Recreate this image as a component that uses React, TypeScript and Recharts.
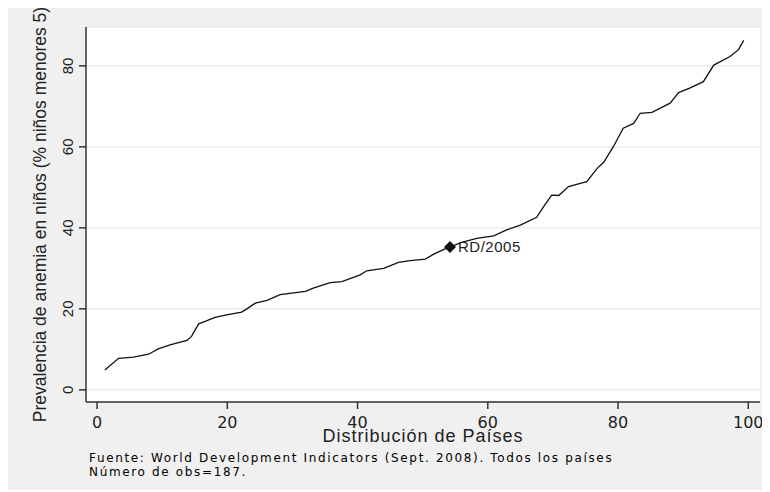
import { ComposedChart, Line, Scatter, XAxis, YAxis, CartesianGrid, Label } from "recharts";

// percentile of countries (x) vs anemia prevalence in children under 5 (y)
const pctl = [
  1.2, 3.3, 5.6, 7.9, 9.4, 11.2, 13.8, 14.5, 15.6, 16.6,
  18.1, 19.9, 22.2, 23.0, 24.3, 26.1, 28.1, 32.0, 33.2, 35.8,
  37.6, 40.4, 41.4, 44.0, 46.3, 48.1, 50.4, 51.7, 53.7, 56.0,
  58.3, 60.9, 62.9, 65.0, 67.5, 68.6, 69.8, 70.9, 72.4, 74.2,
  75.2, 76.8, 77.8, 79.3, 80.8, 82.4, 83.4, 85.2, 88.0, 89.3,
  91.0, 93.1, 94.7, 97.2, 98.5, 99.3,
];
const anemia = [
  4.9, 7.8, 8.1, 8.8, 10.1, 11.1, 12.2, 13.2, 16.3, 16.9,
  17.9, 18.5, 19.2, 20.0, 21.4, 22.1, 23.5, 24.3, 25.1, 26.5,
  26.7, 28.4, 29.4, 30.0, 31.5, 31.9, 32.3, 33.5, 35.0, 36.4,
  37.4, 38.0, 39.5, 40.7, 42.6, 45.3, 48.1, 48.0, 50.2, 51.0,
  51.4, 54.7, 56.2, 60.1, 64.6, 65.8, 68.3, 68.5, 70.8, 73.4,
  74.5, 76.1, 80.2, 82.3, 84.0, 86.3,
];
const highlight = [{ pctl: 54.2, anemia: 35.3, name: "RD/2005" }];

const yTicks = [0, 20, 40, 60, 80];
const xTicks = [0, 20, 40, 60, 80, 100];
const yTitle = "Prevalencia de anemia en niños (% niños menores 5)";
const xTitle = "Distribución de Países";
const notes = [
  "Fuente: World Development Indicators (Sept. 2008). Todos los países",
  "Número de obs=187.",
];

const data = pctl.map((p, i) => ({ pctl: p, anemia: anemia[i] }));

const sans = "'Liberation Sans', Arial, sans-serif";
const dejavu = "'DejaVu Sans', sans-serif";

function YTick({ y, payload }: any) {
  return (
    <text x={65} y={y} transform={`rotate(-90, 65, ${y})`} textAnchor="middle"
      fontSize={15} fill="#222" fontFamily={sans}>
      {payload.value}
    </text>
  );
}

function XTick({ x, payload }: any) {
  return (
    <text x={x} y={420} textAnchor="middle" fontSize={16} fill="#222" fontFamily={dejavu}>
      {payload.value}
    </text>
  );
}

function Diamond({ cx, cy, payload }: any) {
  const r = 6;
  return (
    <g>
      <polygon points={`${cx},${cy - r} ${cx + r},${cy} ${cx},${cy + r} ${cx - r},${cy}`} fill="#111" />
      <text x={cx + 8} y={cy + 5} fontSize={15} fill="#222" fontFamily={sans} letterSpacing={0.5}>
        {payload.name}
      </text>
    </g>
  );
}

export default function App() {
  return (
    <div style={{ width: 762, height: 482, background: "#f0f0f0" }}>
      <ComposedChart width={762} height={482} data={data}
        margin={{ top: 19, right: 10, bottom: 0, left: 0 }}>
        <CartesianGrid vertical={false} fill="#fff" stroke="#e2e2e2" />
        <XAxis type="number" dataKey="pctl" domain={[-1.7, 101.8]} ticks={xTicks}
          height={88} tickSize={7} tick={<XTick />}
          axisLine={{ stroke: "#333", strokeWidth: 1.5 }} tickLine={{ stroke: "#333", strokeWidth: 1.5 }}>
          <Label content={() => (
            <g>
              <text x={415} y={434} textAnchor="middle" fontSize={18} letterSpacing={1}
                fill="#222" fontFamily={sans}>{xTitle}</text>
              {notes.map((n, i) => (
                <text key={i} x={81} y={454 + i * 14} fontSize={12} letterSpacing={1.65}
                  fill="#000" fontFamily={dejavu}>{n}</text>
              ))}
            </g>
          )} />
        </XAxis>
        <YAxis type="number" domain={[-3, 89.6]} ticks={yTicks} width={78} tickSize={7}
          tick={<YTick />}
          axisLine={{ stroke: "#333", strokeWidth: 1.5 }} tickLine={{ stroke: "#333", strokeWidth: 1.5 }}>
          <Label content={() => (
            <text x={38} y={206.5} transform="rotate(-90, 38, 206.5)" textAnchor="middle"
              fontSize={17.5} fill="#222" fontFamily={sans}>{yTitle}</text>
          )} />
        </YAxis>
        <Line type="linear" dataKey="anemia" stroke="#111" strokeWidth={1.3} dot={false}
          isAnimationActive={false} />
        <Scatter data={highlight} dataKey="anemia" shape={<Diamond />} isAnimationActive={false} />
      </ComposedChart>
    </div>
  );
}
